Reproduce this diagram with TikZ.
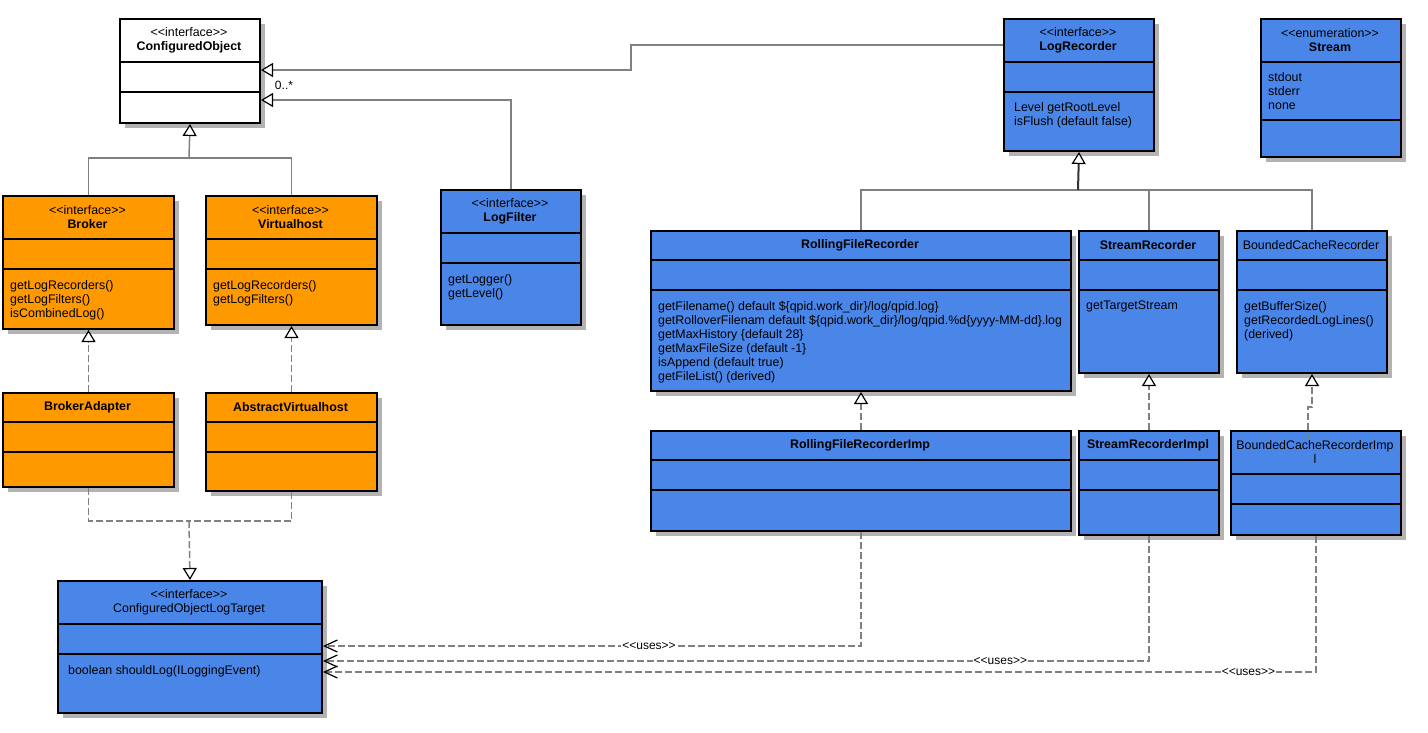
\documentclass[tikz,border=0pt]{standalone}
\usepackage{fontspec}
\setmainfont{Liberation Sans}[Ligatures=TeXOff]
\usetikzlibrary{arrows.meta,shadows}

\definecolor{umlorange}{HTML}{FF9900}
\definecolor{umlblue}{HTML}{4A86E8}
\definecolor{umlshadow}{HTML}{B3B3B3}
\definecolor{umlline}{HTML}{808080}

\begin{document}
\begin{tikzpicture}[x=1pt, y=-1pt, font=\fontsize{12.4}{14}\selectfont,
  cls/.style={draw=black, line width=2pt, anchor=north west, inner sep=0pt,
    drop shadow={shadow xshift=5pt, shadow yshift=-5pt, fill=umlshadow, opacity=1}},
  hdr/.style={align=center, inner sep=0pt},
  body/.style={align=left, anchor=north west, inner sep=0pt},
  divline/.style={line width=2pt},
  conn/.style={draw=umlline, line width=1.5pt},
  gen/.style={conn, -{Triangle[length=12pt, width=14pt, color=black, fill=white, line width=1.2pt]}},
  real/.style={gen, dash pattern=on 7pt off 3pt},
  dashc/.style={conn, dash pattern=on 7pt off 3pt},
  uses/.style={dashc, -{Straight Barb[length=13pt, width=12pt, color=black, line width=1.2pt]}},
  lbl/.style={inner sep=1pt, fill=white, font=\fontsize{12}{14}\selectfont}]

\useasboundingbox (0,0) rectangle (1428,732);

% classes, left part
\node[cls, fill=white, minimum width=140pt, minimum height=104pt] (CO) at (119,18) {};
\draw[divline] (119,62) -- (259,62);
\draw[divline] (119,92) -- (259,92);
\node[hdr] (COt) at (189,40) {<<interface>>\\\textbf{ConfiguredObject}};

\node[cls, fill=umlorange, minimum width=171pt, minimum height=133pt] (Broker) at (2,195) {};
\draw[divline] (2,239) -- (173,239);
\draw[divline] (2,269) -- (173,269);
\node[hdr] (Brokert) at (87.5,217) {<<interface>>\\\textbf{Broker}};
\node[body] (Brokerb) at (10,280) {getLogRecorders()\\getLogFilters()\\isCombinedLog()};

\node[cls, fill=umlorange, minimum width=171pt, minimum height=129pt] (Vhost) at (205,195) {};
\draw[divline] (205,239) -- (376,239);
\draw[divline] (205,269) -- (376,269);
\node[hdr] (Vhostt) at (290.5,217) {<<interface>>\\\textbf{Virtualhost}};
\node[body] (Vhostb) at (213,280) {getLogRecorders()\\getLogFilters()};

\node[cls, fill=umlorange, minimum width=171pt, minimum height=94pt] (BAdapter) at (2,392) {};
\draw[divline] (2,422) -- (173,422);
\draw[divline] (2,452) -- (173,452);
\node[hdr] (BAdaptert) at (87.5,407) {\textbf{BrokerAdapter}};

\node[cls, fill=umlorange, minimum width=171pt, minimum height=98pt] (AVhost) at (205,392) {};
\draw[divline] (205,422) -- (376,422);
\draw[divline] (205,452) -- (376,452);
\node[hdr] (AVhostt) at (290.5,407) {\textbf{AbstractVirtualhost}};

\node[cls, fill=umlblue, minimum width=264pt, minimum height=132pt] (LogTarget) at (57,580) {};
\draw[divline] (57,624) -- (321,624);
\draw[divline] (57,654) -- (321,654);
\node[hdr] (LogTargett) at (189,602) {<<interface>>\\ConfiguredObjectLogTarget};
\node[body] (LogTargetb) at (68,665) {boolean shouldLog(ILoggingEvent)};

\node[cls, fill=umlblue, minimum width=140pt, minimum height=135pt] (LogFilter) at (440,189) {};
\draw[divline] (440,233) -- (580,233);
\draw[divline] (440,263) -- (580,263);
\node[hdr] (LogFiltert) at (510,211) {<<interface>>\\\textbf{LogFilter}};
\node[body] (LogFilterb) at (448,274) {getLogger()\\getLevel()};

% classes, right part
\node[cls, fill=umlblue, minimum width=150pt, minimum height=132pt] (LogRec) at (1003,18) {};
\draw[divline] (1003,62) -- (1153,62);
\draw[divline] (1003,92) -- (1153,92);
\node[hdr] (LogRect) at (1078,40) {<<interface>>\\\textbf{LogRecorder}};
\node[body] (LogRecb) at (1014,102) {Level getRootLevel\\isFlush (default false)};

\node[cls, fill=umlblue, minimum width=140pt, minimum height=138pt] (Stream) at (1260,18) {};
\draw[divline] (1260,62) -- (1400,62);
\draw[divline] (1260,120) -- (1400,120);
\node[hdr] (Streamt) at (1330,40) {<<enumeration>>\\\textbf{Stream}};
\node[body] (Streamb) at (1268,72) {stdout\\stderr\\none};

\node[cls, fill=umlblue, minimum width=420pt, minimum height=160pt] (RFR) at (650,230) {};
\draw[divline] (650,260) -- (1070,260);
\draw[divline] (650,290) -- (1070,290);
\node[hdr] (RFRt) at (860,245) {\textbf{RollingFileRecorder}};
\node[body] (RFRb) at (658,301) {getFilename() default \$\{qpid.work\_dir\}/log/qpid.log\}\\
  getRolloverFilenam default \$\{qpid.work\_dir\}/log/qpid.\%d\{yyyy-MM-dd\}.log\\
  getMaxHistory \{default 28\}\\getMaxFileSize (default -1\}\\
  isAppend (default true)\\getFileList() (derived)};

\node[cls, fill=umlblue, minimum width=140pt, minimum height=142pt] (SR) at (1078,230) {};
\draw[divline] (1078,260) -- (1218,260);
\draw[divline] (1078,290) -- (1218,290);
\node[hdr] (SRt) at (1148,245) {\textbf{StreamRecorder}};
\node[body] (SRb) at (1086,301) {getTargetStream};

\node[cls, fill=umlblue, minimum width=150pt, minimum height=142pt] (BCR) at (1236,230) {};
\draw[divline] (1236,260) -- (1386,260);
\draw[divline] (1236,290) -- (1386,290);
\node[hdr] (BCRt) at (1311,245) {BoundedCacheRecorder};
\node[body] (BCRb) at (1244,301) {getBufferSize()\\getRecordedLogLines()\\(derived)};

\node[cls, fill=umlblue, minimum width=420pt, minimum height=100pt] (RFRI) at (650,430) {};
\draw[divline] (650,460) -- (1070,460);
\draw[divline] (650,490) -- (1070,490);
\node[hdr] (RFRIt) at (860,445) {\textbf{RollingFileRecorderImp}};

\node[cls, fill=umlblue, minimum width=140pt, minimum height=104pt] (SRI) at (1078,430) {};
\draw[divline] (1078,460) -- (1218,460);
\draw[divline] (1078,490) -- (1218,490);
\node[hdr] (SRIt) at (1148,445) {\textbf{StreamRecorderImpl}};

\node[cls, fill=umlblue, minimum width=170pt, minimum height=104pt] (BCRI) at (1230,430) {};
\draw[divline] (1230,474) -- (1400,474);
\draw[divline] (1230,504) -- (1400,504);
\node[hdr] (BCRIt) at (1315,452) {BoundedCacheRecorderImp\\l};

% generalisations
\coordinate (coJ) at (189,158);
\draw[conn] (Broker.north) |- (coJ);
\draw[conn] (Vhost.north) |- (coJ);
\draw[gen] (coJ) -- (CO.south);

\coordinate (bendA) at (631,57);
\draw[gen] (LogRec.west |- 0,45) -| (bendA) |- (CO.east |- 0,70);
\draw[gen] (LogFilter.north) |- (CO.east |- 0,100);
\node[lbl, fill=none] (mult) at (284,85) {0..*};

\coordinate (recJ) at (1078,190);
\draw[conn] (RFR.north) |- (recJ);
\draw[conn] (SR.north) |- (recJ);
\draw[conn] (BCR.north) |- (recJ);
\draw[gen, draw=black!80, line width=2pt] (recJ) -- (LogRec.south);

% realisations
\draw[real] (BAdapter.north) -- (Broker.south);
\draw[real] (AVhost.north) -- (Vhost.south);
\coordinate (tgJ) at (189,521);
\draw[dashc] (BAdapter.south) |- (tgJ);
\draw[dashc] (AVhost.south) |- (tgJ);
\draw[real] (tgJ) -- (LogTarget.north);

\draw[real] (RFRI.north) -- (RFR.south);
\draw[real] (SRI.north) -- (SR.south);
\coordinate (bciIn) at (1308,440);
\draw[real] (bciIn) -- (1308,407) -| (BCR.south);

% uses
\draw[uses] (RFRI.south) |- (LogTarget.east |- 0,646) node[lbl, pos=0.697] (uses1) {<<uses>>};
\draw[uses] (SRI.south) |- (LogTarget.east |- 0,661) node[lbl, pos=0.59] (uses2) {<<uses>>};
\draw[uses] (BCRI.south) |- (LogTarget.east |- 0,672) node[lbl, pos=0.534] (uses3) {<<uses>>};

\end{tikzpicture}
\end{document}
